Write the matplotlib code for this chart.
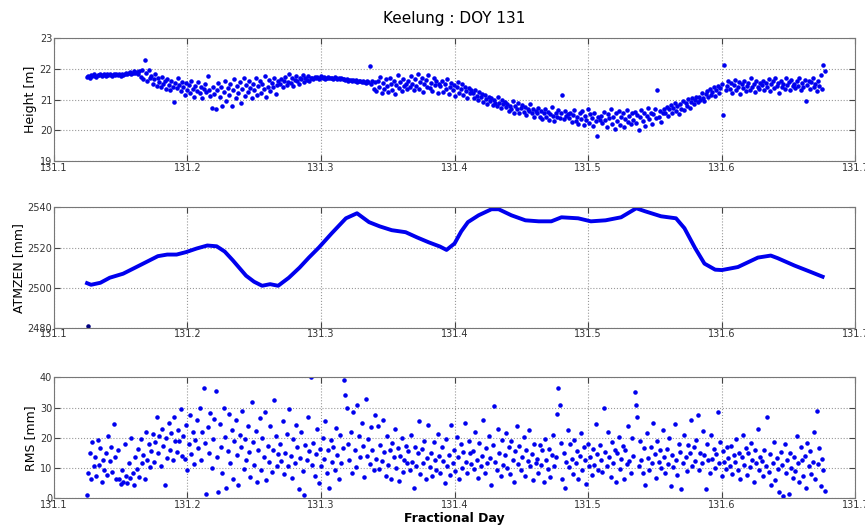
import numpy as np
import matplotlib
matplotlib.use("Agg")
import matplotlib.pyplot as plt

# time range of the session (fractional day)
t_start = 131.125
t_end = 131.677

# station height [m], evenly sampled between t_start and t_end
height = [
    21.74,21.78,21.72,21.80,21.76,21.82,21.78,21.75,21.81,21.79,21.84,21.77,21.80,21.83,21.78,21.82,21.79,21.85,21.81,21.78,21.84,21.80,21.83,21.79,
    21.82,21.78,21.85,21.80,21.84,21.88,21.82,21.86,21.90,21.84,21.88,21.92,21.86,21.90,21.84,21.92,21.75,21.95,21.68,22.28,21.88,21.60,21.98,21.70,
    21.78,21.52,21.66,21.85,21.45,21.70,21.58,21.40,21.75,21.50,21.62,21.35,21.68,21.48,21.30,21.60,21.42,20.92,21.55,21.38,21.72,21.46,21.28,21.58,
    21.40,21.15,21.55,21.30,21.48,21.22,21.62,21.36,21.10,21.45,21.28,21.58,21.20,21.42,21.05,21.35,21.52,21.25,21.78,21.32,21.12,20.72,21.40,21.18,
    20.68,21.30,21.55,21.08,21.42,20.80,21.25,21.62,20.95,21.38,21.15,21.50,20.78,21.32,21.68,21.05,21.45,21.20,21.58,20.90,21.35,21.70,21.12,21.48,
    21.25,21.60,21.38,21.05,21.52,21.30,21.72,21.15,21.45,21.62,21.22,21.50,21.35,21.78,21.08,21.42,21.65,21.28,21.55,21.40,21.70,21.18,21.48,21.60,
    21.50,21.68,21.40,21.62,21.75,21.48,21.58,21.82,21.55,21.70,21.45,21.65,21.78,21.60,21.52,21.72,21.66,21.80,21.58,21.70,21.64,21.76,21.62,21.72,
    21.72,21.68,21.75,21.70,21.74,21.67,21.72,21.76,21.70,21.73,21.68,21.71,21.74,21.69,21.72,21.70,21.67,21.73,21.70,21.68,21.71,21.66,21.69,21.67,
    21.66,21.64,21.68,21.62,21.65,21.63,21.60,21.64,21.61,21.63,21.58,21.62,21.60,21.56,21.61,21.58,21.55,21.60,21.57,22.08,21.52,21.62,21.35,21.58,
    21.28,21.62,21.40,21.75,21.20,21.55,21.35,21.68,21.45,21.25,21.72,21.50,21.32,21.60,21.18,21.48,21.80,21.38,21.58,21.28,21.66,21.44,21.52,21.34,
    21.62,21.40,21.78,21.52,21.30,21.68,21.45,21.85,21.35,21.58,21.72,21.25,21.50,21.65,21.42,21.80,21.38,21.55,21.28,21.70,21.48,21.60,21.22,21.52,
    21.45,21.62,21.25,21.50,21.35,21.68,21.18,21.42,21.55,21.30,21.48,21.12,21.40,21.58,21.22,21.35,21.50,21.15,21.42,21.28,21.05,21.38,21.20,21.32,
    21.22,21.05,21.30,21.12,20.98,21.25,21.08,21.18,20.92,21.15,21.02,20.85,21.10,20.95,21.05,20.82,21.00,20.90,20.78,21.08,20.88,20.72,20.98,20.85,
    20.92,20.75,20.85,20.62,20.80,20.70,20.95,20.58,20.78,20.68,20.88,20.55,20.72,20.82,20.60,20.75,20.50,20.70,20.64,20.85,20.55,20.68,20.45,20.62,
    20.58,20.72,20.45,20.62,20.38,20.55,20.68,20.42,20.60,20.35,20.52,20.75,20.48,20.30,20.58,20.44,20.65,20.40,20.55,21.15,20.38,20.62,20.48,20.52,
    20.40,20.58,20.28,20.50,20.65,20.32,20.45,20.22,20.55,20.38,20.62,20.18,20.48,20.35,20.70,20.25,20.52,20.40,20.15,20.58,20.30,19.82,20.45,20.35,
    20.48,20.25,20.60,20.35,20.12,20.52,20.40,20.68,20.22,20.45,20.05,20.55,20.30,20.62,20.18,20.42,20.58,20.10,20.38,20.65,20.28,20.48,20.20,20.55,
    20.35,20.60,20.25,20.50,20.02,20.42,20.65,20.30,20.55,20.15,20.48,20.72,20.38,20.58,20.22,20.52,20.68,20.40,21.30,20.45,20.62,20.28,20.55,20.70,
    20.55,20.75,20.48,20.68,20.82,20.58,20.72,20.90,20.62,20.80,20.52,20.85,20.70,20.95,20.65,20.88,20.78,21.02,20.72,20.92,21.05,20.85,20.98,21.10,
    20.92,21.10,21.00,21.22,21.05,20.95,21.18,21.28,21.08,21.35,21.15,21.25,21.40,21.12,21.32,21.45,21.20,21.38,21.52,20.50,22.12,21.30,21.45,21.62,
    21.35,21.55,21.22,21.48,21.65,21.30,21.42,21.58,21.18,21.50,21.38,21.62,21.28,21.45,21.55,21.32,21.70,21.40,21.52,21.25,21.60,21.42,21.35,21.55,
    21.48,21.62,21.32,21.55,21.40,21.68,21.28,21.50,21.60,21.38,21.72,21.45,21.55,21.22,21.62,21.42,21.52,21.35,21.70,21.48,21.58,21.30,21.65,21.45,
    21.52,21.38,21.62,21.45,21.70,21.30,21.55,21.42,21.65,20.95,21.48,21.60,21.35,21.58,21.72,21.40,21.52,21.28,21.62,21.45,21.80,21.35,22.12,21.92,
]

# RMS [mm], same sampling as height
rms = [
    1.2,8.5,15.0,6.2,18.5,10.8,13.5,7.5,19.2,11.0,16.5,5.5,12.8,9.2,14.8,7.8,20.5,12.2,17.0,8.8,24.5,13.5,6.5,15.8,
    6.2,4.8,9.5,5.5,18.0,7.2,5.0,11.5,6.8,20.0,8.2,4.5,13.5,9.8,16.2,7.0,19.5,11.8,14.2,6.5,22.0,12.5,17.8,10.2,
    15.5,21.2,12.0,18.5,26.8,14.8,20.5,10.5,23.0,17.2,4.5,19.8,13.2,24.8,16.0,21.5,12.8,27.0,18.8,15.2,22.5,19.0,29.5,14.0,
    20.5,13.0,24.2,9.5,17.8,27.5,14.5,22.0,11.2,19.2,25.8,16.5,30.0,12.5,21.8,36.5,18.2,1.5,23.5,15.0,28.2,10.0,19.5,26.2,
    35.5,13.8,2.0,24.5,17.0,8.5,30.0,20.2,3.5,15.5,27.8,11.5,22.5,6.5,18.8,26.0,14.2,4.5,21.0,16.8,29.0,9.8,19.5,12.8,
    24.0,15.2,7.0,32.0,18.5,11.0,22.2,5.5,16.0,26.5,9.5,19.8,13.5,28.5,6.0,17.2,12.0,23.8,8.8,15.8,32.5,20.5,10.5,14.5,
    18.0,12.2,25.5,8.0,15.0,21.2,10.8,29.5,14.0,6.8,19.5,11.5,24.2,16.8,3.0,13.2,22.0,9.0,1.2,17.5,12.5,27.0,15.5,40.0,
    11.0,18.2,7.5,14.5,22.8,5.0,16.2,10.5,20.0,13.0,25.5,8.2,15.8,3.5,19.2,12.0,17.0,9.5,23.2,14.2,6.2,21.0,11.8,16.5,
    39.0,34.0,30.0,18.0,12.5,22.0,8.5,28.5,15.8,10.2,31.0,20.5,13.5,25.0,17.2,7.0,33.0,14.0,19.5,11.2,23.5,16.0,9.2,27.5,
    13.0,24.0,9.8,17.5,12.2,26.0,15.2,7.5,20.5,11.0,15.8,6.2,18.2,13.5,22.8,10.0,16.5,5.8,14.0,19.8,8.8,12.8,17.2,11.5,
    15.5,9.2,20.8,12.0,3.5,17.0,10.5,14.8,25.5,8.0,16.2,11.8,19.0,6.5,13.2,24.2,10.2,15.0,7.2,18.5,12.5,9.5,21.2,14.0,
    8.5,16.8,12.2,5.0,19.5,10.8,14.2,7.8,24.2,11.5,16.0,9.0,20.2,13.5,6.2,17.8,10.0,15.2,25.0,12.0,8.2,18.8,14.8,11.2,
    15.5,9.8,22.0,12.5,6.8,18.2,10.5,14.0,26.0,8.5,16.5,11.8,20.5,13.2,4.5,17.5,30.5,12.0,9.2,23.0,15.0,7.5,19.2,11.0,
    14.2,21.5,10.0,16.8,8.0,19.0,12.8,5.5,15.5,24.0,11.2,17.2,9.5,13.8,20.2,7.2,16.0,12.2,22.5,10.8,14.5,6.0,18.0,11.5,
    13.0,8.2,17.5,11.0,15.8,5.2,19.5,12.5,9.8,16.2,7.0,14.2,20.8,10.5,13.5,28.0,36.5,31.0,18.2,6.2,15.0,3.5,12.0,22.5,
    10.2,17.8,13.0,8.0,19.2,11.5,15.5,6.5,14.0,21.5,9.2,16.8,12.5,4.8,18.0,10.8,13.8,7.8,16.2,11.0,24.5,14.5,9.5,17.5,
    12.5,8.8,30.0,15.2,10.5,22.0,13.5,7.0,18.5,11.8,16.0,5.5,14.8,20.2,9.8,13.0,17.2,6.5,15.8,11.2,24.0,12.2,8.2,19.8,
    14.0,35.0,31.0,27.0,10.8,18.8,12.8,8.5,16.5,4.5,21.5,13.2,9.2,17.0,11.5,25.0,14.5,6.8,19.0,12.0,15.8,10.0,22.5,13.8,
    8.5,16.2,11.2,20.0,4.2,14.2,10.2,24.5,12.8,7.8,18.0,15.2,3.2,11.8,21.0,13.5,9.0,17.5,14.8,26.0,10.5,16.8,12.2,19.2,
    27.5,9.5,15.0,11.8,22.2,14.2,3.0,17.8,12.5,8.2,20.8,13.0,16.2,10.0,14.5,28.5,11.5,18.5,7.5,15.5,12.0,9.8,16.8,13.2,
    10.5,17.2,8.0,14.2,12.0,19.5,9.2,15.0,6.5,13.5,21.0,11.0,16.5,7.8,14.8,10.2,18.2,12.8,5.2,15.8,11.5,23.0,9.5,13.8,
    12.2,7.5,16.0,10.8,27.0,8.8,14.5,4.5,11.8,18.5,6.0,13.2,9.8,2.0,15.2,11.0,0.8,17.8,8.2,12.5,1.5,14.8,10.0,6.8,
    13.8,9.0,20.5,11.5,5.5,16.8,12.8,7.2,14.0,3.5,18.2,10.5,15.5,8.0,12.0,22.0,6.2,29.0,11.2,16.5,4.0,13.0,9.5,2.5,
]

# ATMZEN [mm]
atm_t = [131.125,131.128,131.135,131.142,131.152,131.164,131.178,131.185,131.192,131.199,
         131.207,131.215,131.222,131.228,131.234,131.244,131.250,131.256,131.262,131.268,
         131.276,131.284,131.291,131.2985,131.308,131.3187,131.327,131.336,131.344,131.353,
         131.3634,131.372,131.3806,131.389,131.394,131.400,131.405,131.410,131.418,131.4276,
         131.433,131.4425,131.453,131.463,131.4724,131.480,131.4925,131.502,131.513,131.5246,
         131.536,131.5425,131.5545,131.5657,131.572,131.580,131.587,131.595,131.600,131.612,
         131.627,131.6366,131.6418,131.6545,131.666,131.6754]
atm = [2502.3,2501.5,2502.5,2505.0,2507.0,2511.0,2515.7,2516.5,2516.5,2517.7,
       2519.5,2521.0,2520.6,2518.0,2513.7,2506.0,2503.0,2501.0,2501.8,2501.0,
       2505.0,2510.0,2515.0,2520.0,2527.0,2534.5,2537.0,2532.6,2530.5,2528.6,
       2527.6,2525.0,2522.6,2520.5,2518.8,2522.0,2528.0,2532.6,2536.0,2539.0,
       2539.0,2536.0,2533.5,2533.0,2533.0,2535.0,2534.5,2533.0,2533.5,2535.0,
       2539.5,2538.0,2535.5,2534.5,2529.6,2519.7,2512.0,2509.0,2508.8,2510.3,
       2515.0,2516.0,2514.7,2511.0,2508.0,2505.5]
atm_out_t = [131.126]
atm_out = [2481.0]

t = np.linspace(t_start, t_end, len(height))
t_rms = np.linspace(t_start, t_end, len(rms))

fig = plt.figure(figsize=(8.65, 5.3), dpi=100)
ax1 = fig.add_axes([0.062, 0.696, 0.927, 0.232])
ax2 = fig.add_axes([0.062, 0.381, 0.927, 0.228])
ax3 = fig.add_axes([0.062, 0.060, 0.927, 0.228])

blue = '#0000ee'
ax1.plot(t, height, '.', color=blue, markersize=4.5)
ax2.plot(atm_t, atm, '-', color=blue, linewidth=2.8)
ax2.plot(atm_out_t, atm_out, '.', color='#000080', markersize=4.5)
ax3.plot(t_rms, rms, '.', color=blue, markersize=4.5)

ax1.set_ylim(19, 23)
ax1.set_yticks([19, 20, 21, 22, 23])
ax2.set_ylim(2480, 2540)
ax2.set_yticks([2480, 2500, 2520, 2540])
ax3.set_ylim(0, 40)
ax3.set_yticks([0, 10, 20, 30, 40])

ax1.set_ylabel('Height [m]', fontsize=9, labelpad=2)
ax2.set_ylabel('ATMZEN [mm]', fontsize=9, labelpad=2)
ax3.set_ylabel('RMS [mm]', fontsize=9, labelpad=2)
ax3.set_xlabel('Fractional Day', fontsize=9, fontweight='bold', labelpad=2)
ax1.set_title('Keelung : DOY 131', fontsize=11, pad=11)

for ax in (ax1, ax2, ax3):
    ax.set_xlim(131.1, 131.7)
    ax.set_xticks([131.1, 131.2, 131.3, 131.4, 131.5, 131.6, 131.7])
    ax.set_xticklabels(['131.1', '131.2', '131.3', '131.4', '131.5', '131.6', '131.7'])
    ax.grid(True, linestyle=':', color='#999999', linewidth=0.8)
    ax.tick_params(direction='in', top=True, right=True, labelsize=7,
                   length=4, colors='#444444', labelcolor='#333333', pad=1)
    for s in ax.spines.values():
        s.set_color('#777777')

fig.savefig('out.png', dpi=100)
